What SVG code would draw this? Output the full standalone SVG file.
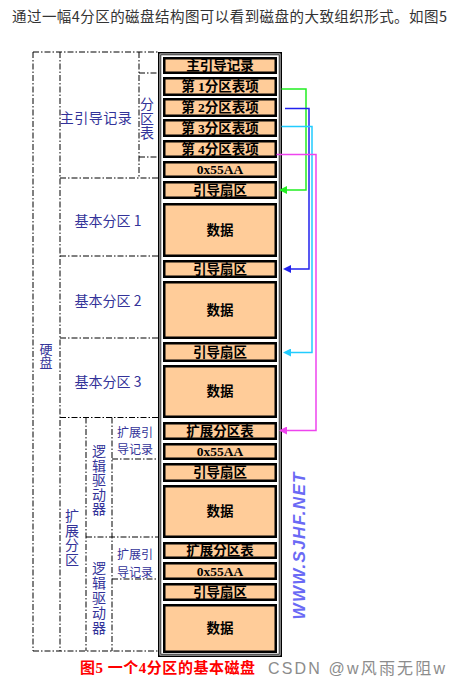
<svg xmlns="http://www.w3.org/2000/svg" width="460" height="689" viewBox="0 0 460 689">
<style>
.dd{stroke:#000;stroke-width:1;fill:none;stroke-dasharray:6 2 1.5 2}
.cell{fill:#FFCC99;stroke:#000;stroke-width:2.5}
.ct{font-family:"Liberation Serif","Noto Sans CJK SC",serif;font-weight:bold;font-size:13.5px;fill:#000;text-anchor:middle;dominant-baseline:central}
.lb{font-family:"Noto Sans CJK SC",sans-serif;font-size:14px;fill:#333399;text-anchor:middle;dominant-baseline:central}
.lbs{font-family:"Noto Sans CJK SC",sans-serif;font-size:13px;fill:#333399;text-anchor:middle;dominant-baseline:central}
.lbx{font-family:"Noto Sans CJK SC",sans-serif;font-size:12px;fill:#333399;text-anchor:middle;dominant-baseline:central}
.ar{fill:none;stroke-width:1.5}
</style>
<defs>
<marker id="mg" viewBox="0 0 8 8" refX="0" refY="4" markerWidth="8" markerHeight="8" markerUnits="userSpaceOnUse" orient="auto"><path d="M0,0 L8,4 L0,8 z" fill="#22EE22"/></marker>
<marker id="mb" viewBox="0 0 8 8" refX="0" refY="4" markerWidth="8" markerHeight="8" markerUnits="userSpaceOnUse" orient="auto"><path d="M0,0 L8,4 L0,8 z" fill="#2222EE"/></marker>
<marker id="mc" viewBox="0 0 8 8" refX="0" refY="4" markerWidth="8" markerHeight="8" markerUnits="userSpaceOnUse" orient="auto"><path d="M0,0 L8,4 L0,8 z" fill="#22CCFF"/></marker>
<marker id="mm" viewBox="0 0 8 8" refX="0" refY="4" markerWidth="8" markerHeight="8" markerUnits="userSpaceOnUse" orient="auto"><path d="M0,0 L8,4 L0,8 z" fill="#EE44EE"/></marker>
</defs>
<rect width="460" height="689" fill="#fff"/>
<text x="12" y="15" font-family="'Noto Sans CJK SC',sans-serif" font-size="14.5" fill="#333" dominant-baseline="central" textLength="435">通过一幅4分区的磁盘结构图可以看到磁盘的大致组织形式。如图5</text>

<g id="layout-lines">
<path class="dd" d="M33,52 H158 M33,52 V651 M33,651 H158 M60,52 V651 M139,52 V178 M139,73 H158 M139,157 H158 M60,178 H158 M60,256 H158 M60,338 H158 M60,417.5 H158 M86,417.5 V651 M112,417.5 V651 M112,459 H158 M86,537 H158 M112,579 H158"/>
</g>

<g id="labels">
<text class="lb" x="96" y="117" letter-spacing="0.5">主引导记录</text>
<text class="lb" x="147 147 147" y="103 118 132">分区表</text>
<text class="lbs" x="46 46" y="348 361">硬盘</text>
<text class="lb" x="108" y="220">基本分区 1</text>
<text class="lb" x="108" y="300">基本分区 2</text>
<text class="lb" x="108" y="381">基本分区 3</text>
<text class="lb" x="72 72 72 72" y="515 529.5 544 558.5">扩展分区</text>
<text class="lb" x="99 99 99 99 99" y="450 464.5 479 493.5 508">逻辑驱动器</text>
<text class="lb" x="99 99 99 99 99" y="566.5 581.5 596.5 611.5 626.5">逻辑驱动器</text>
<text class="lbx"><tspan x="135" y="430.5">扩展引</tspan><tspan x="135" y="448">导记录</tspan></text>
<text class="lbx"><tspan x="135" y="553">扩展引</tspan><tspan x="135" y="570.5">导记录</tspan></text>
</g>

<g id="disk">
<rect x="158.75" y="52.75" width="122.5" height="603.5" fill="#fff" stroke="#000" stroke-width="1.5"/>
<rect x="160.75" y="54.75" width="118.5" height="599.5" fill="none" stroke="#222" stroke-width="1"/>
</g>

<g id="mbr"><rect class="cell" x="164.25" y="58.25" width="111.5" height="14.5"/><text class="ct" x="220" y="65.5">主引导记录</text></g>
<g id="pt1"><rect class="cell" x="164.25" y="78.25" width="111.5" height="16.5"/><text class="ct" x="220" y="86.5">第 1分区表项</text></g>
<g id="pt2"><rect class="cell" x="164.25" y="99.25" width="111.5" height="16.5"/><text class="ct" x="220" y="107.5">第 2分区表项</text></g>
<g id="pt3"><rect class="cell" x="164.25" y="120.25" width="111.5" height="15.5"/><text class="ct" x="220" y="128">第 3分区表项</text></g>
<g id="pt4"><rect class="cell" x="164.25" y="141.25" width="111.5" height="15.5"/><text class="ct" x="220" y="149">第 4分区表项</text></g>
<g id="sig0"><rect class="cell" x="164.25" y="162.25" width="111.5" height="14.5"/><text class="ct" x="220" y="169.5">0x55AA</text></g>
<g id="boot1"><rect class="cell" x="164.25" y="182.25" width="111.5" height="15.5"/><text class="ct" x="220" y="190">引导扇区</text></g>
<g id="data1"><rect class="cell" x="164.25" y="204.25" width="111.5" height="51.5"/><text class="ct" x="220" y="230">数据</text></g>
<g id="boot2"><rect class="cell" x="164.25" y="261.25" width="111.5" height="15.5"/><text class="ct" x="220" y="269">引导扇区</text></g>
<g id="data2"><rect class="cell" x="164.25" y="282.25" width="111.5" height="55.5"/><text class="ct" x="220" y="310">数据</text></g>
<g id="boot3"><rect class="cell" x="164.25" y="343.25" width="111.5" height="17.5"/><text class="ct" x="220" y="352">引导扇区</text></g>
<g id="data3"><rect class="cell" x="164.25" y="366.25" width="111.5" height="50.5"/><text class="ct" x="220" y="391.5">数据</text></g>
<g id="ext1"><rect class="cell" x="164.25" y="423.25" width="111.5" height="15.5"/><text class="ct" x="220" y="431">扩展分区表</text></g>
<g id="sig1"><rect class="cell" x="164.25" y="444.25" width="111.5" height="14.5"/><text class="ct" x="220" y="451.5">0x55AA</text></g>
<g id="boot4"><rect class="cell" x="164.25" y="464.25" width="111.5" height="16.5"/><text class="ct" x="220" y="472.5">引导扇区</text></g>
<g id="data4"><rect class="cell" x="164.25" y="486.25" width="111.5" height="50.5"/><text class="ct" x="220" y="511.5">数据</text></g>
<g id="ext2"><rect class="cell" x="164.25" y="543.25" width="111.5" height="14.5"/><text class="ct" x="220" y="550.5">扩展分区表</text></g>
<g id="sig2"><rect class="cell" x="164.25" y="563.25" width="111.5" height="15.5"/><text class="ct" x="220" y="571">0x55AA</text></g>
<g id="boot5"><rect class="cell" x="164.25" y="584.25" width="111.5" height="15.5"/><text class="ct" x="220" y="592">引导扇区</text></g>
<g id="data5"><rect class="cell" x="164.25" y="605.25" width="111.5" height="46.5"/><text class="ct" x="220" y="628.5">数据</text></g>

<g id="connectors">
<path class="ar" stroke="#22EE22" d="M281.5,89 H306 V190 H287" marker-end="url(#mg)"/>
<path class="ar" stroke="#2222EE" d="M285,108.5 H309 V269 H291" marker-end="url(#mb)"/>
<path class="ar" stroke="#22CCFF" d="M281.5,126.5 H312 V352.5 H291" marker-end="url(#mc)"/>
<path class="ar" stroke="#EE44EE" d="M276.5,154.5 H316 V430.5 H287" marker-end="url(#mm)"/>
</g>

<text x="299" y="546" transform="rotate(-90 299 546)" font-family="'Liberation Sans',sans-serif" font-weight="bold" font-style="italic" font-size="17" fill="#6A6AF5" text-anchor="middle" dominant-baseline="central" textLength="147">WWW.SJHF.NET</text>

<text x="80" y="668" font-family="'Liberation Serif','Noto Sans CJK SC',serif" font-weight="bold" font-size="15" fill="#FF0000" dominant-baseline="central" textLength="175">图5  一个4分区的基本磁盘</text>
<text x="268" y="668" font-family="'Liberation Sans','Noto Sans CJK SC',sans-serif" font-size="16" fill="#8c8c8c" dominant-baseline="central" textLength="177">CSDN @w风雨无阻w</text>
</svg>
